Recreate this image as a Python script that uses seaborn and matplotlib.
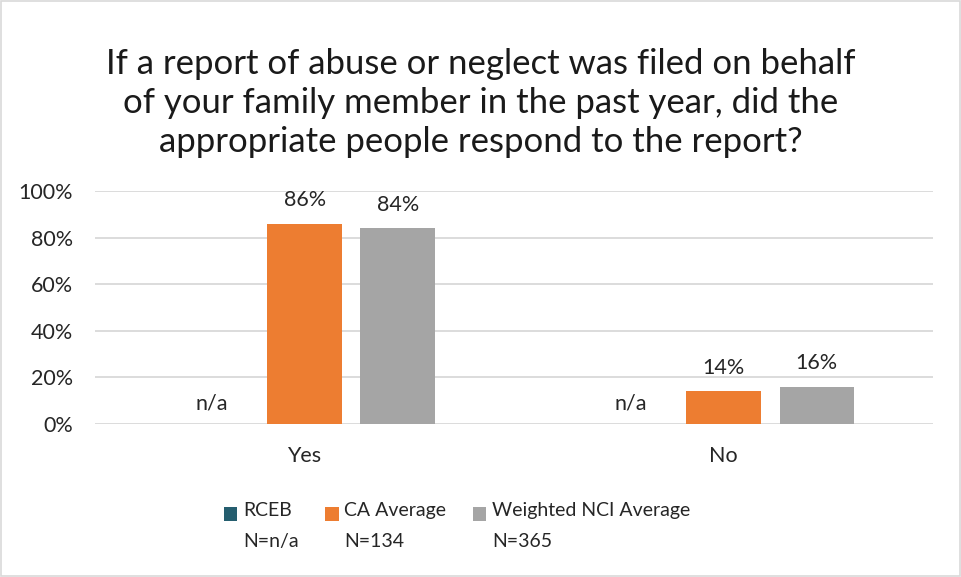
import numpy as np
import pandas as pd
import matplotlib
matplotlib.use("Agg")
import matplotlib.pyplot as plt
import seaborn as sns
from matplotlib.patches import Patch, Rectangle
from matplotlib.ticker import PercentFormatter

categories = ["Yes", "No"]
series = ["RCEB", "CA Average", "Weighted NCI Average"]
series_n = ["N=n/a", "N=134", "N=365"]
rceb = [np.nan, np.nan]
ca_avg = [0.86, 0.14]
nci_avg = [0.84, 0.16]
colors = ["#255E6F", "#ED7D31", "#A5A5A5"]
title = ("If a report of abuse or neglect was filed on behalf\n"
         "of your family member in the past year, did the\n"
         "appropriate people respond to the report?")

rows = []
for s, vals in zip(series, [rceb, ca_avg, nci_avg]):
    for c, v in zip(categories, vals):
        rows.append({"category": c, "series": s, "value": v})
df = pd.DataFrame(rows)

sns.set_theme(style="white")
plt.rcParams["font.family"] = ["Lato", "DejaVu Sans"]
textc = "#262626"
fs = 15.5
lfs = 14
dpi = 100

fig = plt.figure(figsize=(9.62, 5.77), dpi=dpi)
ax = fig.add_axes([0.0988, 0.265, 0.8712, 0.404])
sns.barplot(data=df, x="category", y="value", hue="series", hue_order=series,
            order=categories, palette=colors, width=0.667, gap=0.2, saturation=1,
            ax=ax, legend=False, linewidth=0, err_kws={"linewidth": 0})

ax.set_xlim(-0.5, 1.5)
ax.set_ylim(0, 1.0)
ax.set_yticks(np.arange(0, 1.01, 0.2))
ax.yaxis.set_major_formatter(PercentFormatter(1.0, decimals=0))
ax.grid(axis="y", color="#D9D9D9", linewidth=1.3)
ax.set_axisbelow(True)
for sp in ax.spines.values():
    sp.set_visible(False)
ax.set_xlabel("")
ax.set_ylabel("")
ax.tick_params(axis="both", length=0, labelsize=fs, colors=textc)
ax.tick_params(axis="x", pad=16)
ax.tick_params(axis="y", pad=16)

# data labels
slot = 0.667 / 3
for si, (s, vals) in enumerate(zip(series, [rceb, ca_avg, nci_avg])):
    for ci, v in enumerate(vals):
        xc = ci - 0.667 / 2 + slot * (si + 0.5)
        if v is None or (isinstance(v, float) and np.isnan(v)):
            ax.text(xc, 0.09, "n/a", ha="center", va="center", fontsize=fs, color=textc)
        else:
            ax.annotate(f"{v*100:.0f}%", (xc, v), xytext=(0, 17), textcoords="offset points",
                        ha="center", va="center", fontsize=fs, color=textc)

fig.text(0.5, 0.822, title, ha="center", va="center", fontsize=25,
         color="#1a1a1a", linespacing=1.27)

handles = [Patch(facecolor=c, edgecolor="none") for c in colors]
labels = [f"{s}\n{n}" for s, n in zip(series, series_n)]
leg = fig.legend(handles, labels, loc="center", bbox_to_anchor=(0.475, 0.088),
                 ncol=3, frameon=False, fontsize=lfs, handlelength=0.7,
                 handleheight=0.7, handletextpad=0.3, columnspacing=1.35)
for t in leg.get_texts():
    t.set_color(textc)
    t.set_linespacing(2.0)
fig.canvas.draw()
line_px = lfs * dpi / 72 * 1.2
for t, h in zip(leg.get_texts(), leg.legend_handles):
    tb = t.get_window_extent()
    hb = h.get_window_extent()
    target = tb.y1 - line_px / 2
    cur = (hb.y0 + hb.y1) / 2
    h.set_y(h.get_y() + (target - cur) * 72 / dpi)

fig.patches.append(Rectangle((0.001, 0.002), 0.997, 0.996, transform=fig.transFigure,
                             fill=False, edgecolor="#D9D9D9", linewidth=1.2))
fig.savefig("out.png", dpi=dpi)
